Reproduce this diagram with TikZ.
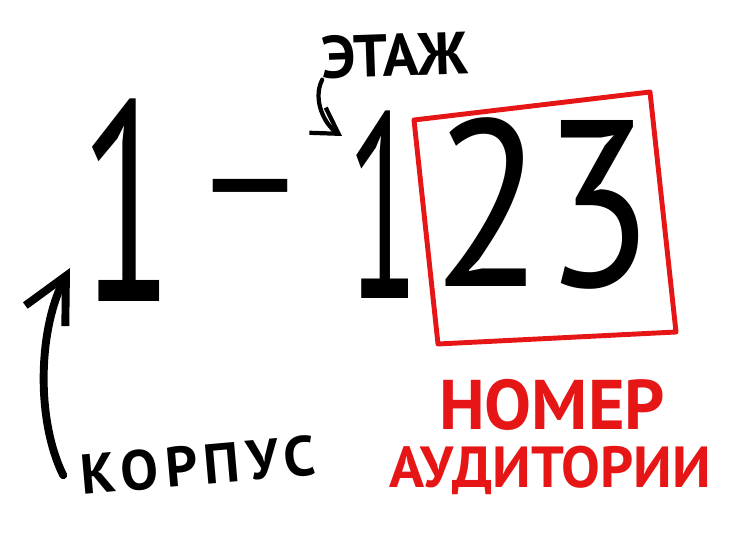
\documentclass[tikz,border=0pt]{standalone}
\usepackage{fontspec}
\setmainfont{PT Sans}
\usepackage{tikz}
\usetikzlibrary{arrows.meta,positioning,calc}
\definecolor{markred}{RGB}{230,22,22}

\begin{document}
\begin{tikzpicture}[x=0.02cm,y=-0.02cm,
 digit/.style={inner sep=0pt,font=\fontsize{150}{150}\selectfont},
 sign/.style={inner sep=0pt,font=\bfseries\fontsize{34}{34}\selectfont},
 redsign/.style={sign,markred,font=\bfseries\fontsize{40}{40}\selectfont},
 pointer/.style={line width=2.4pt,line cap=round,-{Straight Barb[length=5mm,width=6mm]}},
 frame/.style={markred,line width=2.8pt,line join=round}]
\useasboundingbox (0,0) rectangle (738,554);
 \node[digit,xscale=0.6,font=\fontsize{162}{162}\selectfont] (corp) at (127,200) {1};
 \node[inner sep=0pt,anchor=base,font=\fontsize{100}{100}\selectfont] (dash) at (250,236) {–};
 \node[digit,xscale=0.5] (floor) at (383,205) {1};
 \node[digit,xscale=0.85,font=\fontsize{135}{135}\selectfont] (room) at (543,203) {23};
 \draw[frame] (414,120) -- (650,92) -- (676,332) -- (438,344) -- cycle;
 \node[sign,rotate=2] (etazh) at (395,55) {ЭТАЖ};
 \coordinate (floortip) at (342,136);
 \draw[pointer] (etazh.south west) .. controls (312,100) and (325,125) .. (floortip);
 \node[sign,rotate=5,font=\bfseries\fontsize{32}{32}\selectfont\addfontfeatures{LetterSpace=12}] (korpus) at (198,465) {КОРПУС};
 \coordinate (corptip) at (70,268);
 \draw[pointer,line width=4.5pt,-{Straight Barb[length=9mm,width=9mm]}]
  ([xshift=-10pt]korpus.west) .. controls (36,420) and (38,330) .. (corptip);
 \node[redsign] (nomer) at (552,405) {НОМЕР};
 \node[redsign,font=\bfseries\fontsize{33}{33}\selectfont] (audit) at (550,470) {АУДИТОРИИ};
\end{tikzpicture}
\end{document}
